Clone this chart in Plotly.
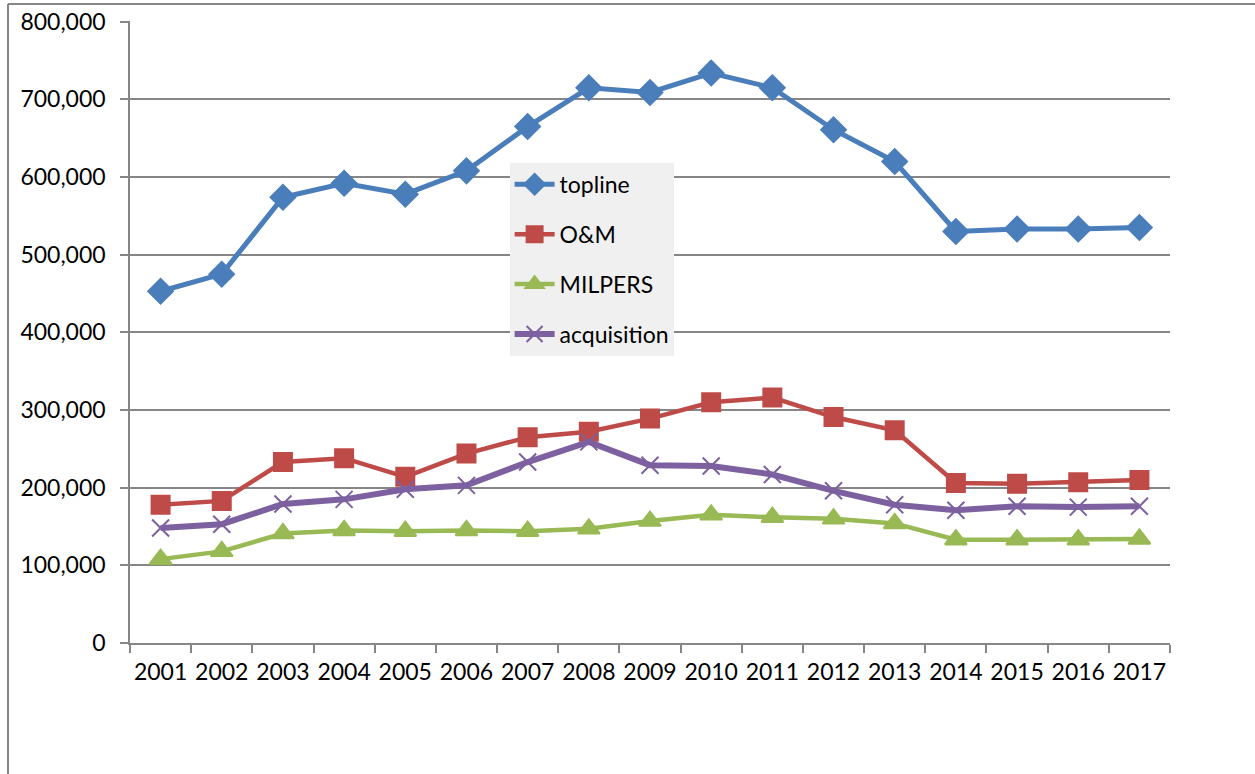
import plotly.graph_objects as go

years = [str(y) for y in range(2001, 2018)]

topline = [453000, 475000, 574000, 592000, 578000, 608000, 665000, 715000, 709000,
           734000, 715000, 661000, 620000, 530000, 533000, 533000, 535000]
om = [178000, 183000, 233000, 238000, 214000, 244000, 265000, 272000, 289000,
      310000, 316000, 291000, 274000, 206000, 205000, 207000, 210000]
milpers = [108000, 118000, 141000, 145000, 144000, 145000, 144000, 147000, 157000,
           165000, 162000, 160000, 154000, 133000, 133000, 133000, 134000]
acquisition = [148000, 153000, 179000, 185000, 198000, 203000, 233000, 259000, 229000,
               228000, 217000, 196000, 178000, 171000, 176000, 175000, 176000]

series = [
    ("topline", topline, "#4a7ebb", "diamond", 19, 5),
    ("O&M", om, "#be4b48", "square", 18, 4.5),
    ("MILPERS", milpers, "#98b954", "triangle-up", 19, 4.5),
    ("acquisition", acquisition, "#7d60a0", "x-thin-open", 17, 6),
]

fig = go.Figure()
for name, vals, color, sym, size, width in series:
    fig.add_trace(go.Scatter(
        x=years, y=vals, name=name, mode="lines+markers", legendgroup=name,
        line=dict(color=color, width=width),
        marker=dict(symbol=sym, size=size, color=color,
                    line=dict(color=color, width=2)),
    ))

grey = "#868686"
fig.update_layout(
    width=1255, height=774,
    margin=dict(l=130, r=85, t=21, b=131),
    paper_bgcolor="white", plot_bgcolor="white",
    font=dict(family="Lato, Open Sans, sans-serif", size=23, color="black"),
    legend=dict(x=0.365, y=0.772, xanchor="left", yanchor="top",
                bgcolor="#f0f0f0", tracegroupgap=17, traceorder="grouped",
                font=dict(size=23), itemwidth=40),
    showlegend=True,
)
fig.update_xaxes(type="category", range=[-0.5, len(years) - 0.5],
                 tickson="boundaries", ticks="outside", ticklen=8,
                 tickcolor=grey, tickwidth=1.5, showline=True, linecolor=grey,
                 linewidth=1.5, showgrid=False, ticklabelstandoff=8,
                 tickangle=0, automargin=False)
fig.update_yaxes(range=[0, 801000], tick0=0, dtick=100000, tickformat=",",
                 ticks="outside", ticklen=8, tickcolor=grey, tickwidth=1.5,
                 showline=True, linecolor=grey, linewidth=1.5, showgrid=True,
                 gridcolor=grey, gridwidth=1.5, zeroline=False,
                 ticklabelstandoff=10, ticklabeloverflow="allow", automargin=False)

# outer chart border (only top and left edges visible in the frame)
fig.add_shape(type="line", xref="paper", yref="paper", x0=-0.1173, x1=1.13,
              y0=1.0273, y1=1.0273, line=dict(color=grey, width=2))
fig.add_shape(type="line", xref="paper", yref="paper", x0=-0.1173, x1=-0.1173,
              y0=1.0273, y1=-0.25, line=dict(color=grey, width=2))

# drop the default page margin so the figure sits at the window's corner
fig.write_html("out.html", config={"displayModeBar": False},
               post_script="document.body.style.margin='0';")
